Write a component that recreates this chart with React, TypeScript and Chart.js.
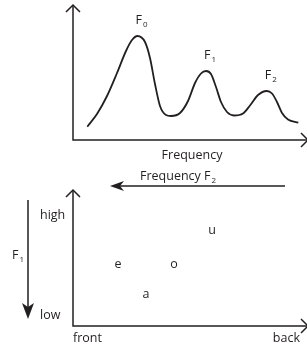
import React, { useEffect, useRef } from 'react';
import { Chart, registerables } from 'chart.js';

Chart.register(...registerables);

// ---- data ----
const spectrumFreq = [6.16, 10.34, 14.66, 18.97, 22.84, 25.43, 27.8, 31.03, 33.19, 35.34, 37.5, 40.09, 42.24, 46.12, 49.57, 52.59, 55.17, 57.33, 59.48, 61.64, 63.79, 66.38, 69.4, 73.28, 76.29, 79.74, 83.49, 85.78, 87.93, 90.09, 92.67, 97.11];
const spectrumAmp = [9.85, 19.26, 32.59, 49.63, 65.93, 74.07, 77.04, 72.59, 60.74, 41.48, 25.19, 18.52, 17.78, 20.0, 28.89, 42.22, 49.26, 51.11, 48.89, 39.26, 28.15, 20.74, 18.15, 19.63, 25.56, 33.33, 36.3, 34.44, 28.15, 20.0, 15.19, 12.81];
const formantSubs = ['0', '1', '2'];
const spectrumXTitle = 'Frequency';

const vowels = ['u', 'e', 'o', 'a'];
const vowelBackness = [59.9, 19.4, 43.5, 31.5];
const vowelHeight = [70.6, 44.9, 44.9, 23.5];
const heightLabels = ['high', 'low'];
const backnessLabels = ['front', 'back'];

const INK = '#231f20';
const FONT = '"Open Sans", sans-serif';
const FS = 12.5;

function chevron(ctx: CanvasRenderingContext2D, tx: number, ty: number, dir: 'up' | 'right', s = 7) {
  ctx.beginPath();
  if (dir === 'up') {
    ctx.moveTo(tx - s, ty + s);
    ctx.lineTo(tx, ty);
    ctx.lineTo(tx + s, ty + s);
  } else {
    ctx.moveTo(tx - s, ty - s);
    ctx.lineTo(tx, ty);
    ctx.lineTo(tx - s, ty + s);
  }
  ctx.stroke();
}

function subText(ctx: CanvasRenderingContext2D, base: string, sub: string, x: number, y: number, size: number) {
  ctx.font = `${size}px ${FONT}`;
  ctx.textAlign = 'left';
  ctx.textBaseline = 'middle';
  ctx.fillText(base, x, y);
  const w = ctx.measureText(base).width;
  ctx.font = `${Math.round(size * 0.6)}px ${FONT}`;
  ctx.fillText(sub, x + w + 1, y + size * 0.4);
}

const topPlugin = {
  id: 'topDeco',
  afterDraw(chart: any) {
    const ctx = chart.ctx as CanvasRenderingContext2D;
    const { left, top, bottom } = chart.chartArea;
    const W = chart.width;
    ctx.save();
    ctx.strokeStyle = INK;
    ctx.fillStyle = INK;
    ctx.lineWidth = 1.5;
    ctx.beginPath();
    ctx.moveTo(left, top);
    ctx.lineTo(left, bottom);
    ctx.lineTo(W + 1, bottom);
    ctx.stroke();
    chevron(ctx, left, top, 'up');
    chevron(ctx, W + 1, bottom, 'right');
    // peak labels above each local maximum
    const pts = chart.getDatasetMeta(0).data;
    const peaks: number[] = [];
    for (let i = 1; i < spectrumAmp.length - 1; i++) {
      if (spectrumAmp[i] > spectrumAmp[i - 1] && spectrumAmp[i] >= spectrumAmp[i + 1]) peaks.push(i);
    }
    peaks.forEach((idx, k) => {
      const p = pts[idx];
      subText(ctx, 'F', formantSubs[k] ?? '', p.x - 2, p.y - 16, FS);
    });
    ctx.font = `${FS}px ${FONT}`;
    ctx.textAlign = 'center';
    ctx.textBaseline = 'middle';
    ctx.fillText(spectrumXTitle, 192, bottom + 15);
    ctx.restore();
  },
};

const bottomPlugin = {
  id: 'bottomDeco',
  afterDraw(chart: any) {
    const ctx = chart.ctx as CanvasRenderingContext2D;
    const { left, top, bottom } = chart.chartArea;
    const W = chart.width;
    ctx.save();
    ctx.strokeStyle = INK;
    ctx.fillStyle = INK;
    ctx.lineWidth = 1.5;
    ctx.beginPath();
    ctx.moveTo(left, top);
    ctx.lineTo(left, bottom);
    ctx.lineTo(W + 1, bottom);
    ctx.stroke();
    chevron(ctx, left, top, 'up');
    chevron(ctx, W + 1, bottom, 'right');

    // Frequency F2 arrow (pointing left)
    subText(ctx, 'Frequency F', '2', 140, 11, FS);
    const ay = 21;
    ctx.beginPath();
    ctx.moveTo(285, ay);
    ctx.lineTo(118, ay);
    ctx.stroke();
    ctx.beginPath();
    ctx.moveTo(110, ay);
    ctx.lineTo(124, ay - 5);
    ctx.lineTo(120, ay);
    ctx.lineTo(124, ay + 5);
    ctx.closePath();
    ctx.fill();

    // F1 arrow (pointing down)
    const ax = 28;
    ctx.beginPath();
    ctx.moveTo(ax, 35);
    ctx.lineTo(ax, 145);
    ctx.stroke();
    ctx.beginPath();
    ctx.moveTo(ax, 154);
    ctx.lineTo(ax - 6, 138);
    ctx.lineTo(ax, 142);
    ctx.lineTo(ax + 6, 138);
    ctx.closePath();
    ctx.fill();
    subText(ctx, 'F', '1', 12, 90, FS);

    ctx.font = `${FS}px ${FONT}`;
    ctx.textBaseline = 'middle';
    ctx.textAlign = 'left';
    ctx.fillText(heightLabels[0], 40, 50);
    ctx.fillText(heightLabels[1], 40, 150);
    ctx.fillText(backnessLabels[0], left, bottom + 12);
    ctx.textAlign = 'right';
    ctx.fillText(backnessLabels[1], 300, bottom + 12);

    const meta = chart.getDatasetMeta(0);
    ctx.textAlign = 'center';
    meta.data.forEach((p: any, i: number) => {
      ctx.fillText(vowels[i], p.x, p.y);
    });
    ctx.restore();
  },
};

export default function App() {
  const topRef = useRef<HTMLCanvasElement>(null);
  const botRef = useRef<HTMLCanvasElement>(null);

  useEffect(() => {
    document.body.style.margin = '0';
    const top = new Chart(topRef.current!, {
      type: 'line',
      data: {
        datasets: [
          {
            data: spectrumFreq.map((x, i) => ({ x, y: spectrumAmp[i] })),
            borderColor: INK,
            borderWidth: 1.8,
            pointRadius: 0,
            cubicInterpolationMode: 'monotone',
            fill: false,
          },
        ],
      },
      options: {
        responsive: false,
        animation: false,
        layout: { padding: { left: 73, top: 5, right: 2, bottom: 25 } },
        plugins: { legend: { display: false }, tooltip: { enabled: false } },
        scales: {
          x: { type: 'linear', display: false, min: 0, max: 100 },
          y: { type: 'linear', display: false, min: 0, max: 100 },
        },
      },
      plugins: [topPlugin],
    } as any);

    const bot = new Chart(botRef.current!, {
      type: 'scatter',
      data: {
        datasets: [
          {
            data: vowelBackness.map((x, i) => ({ x, y: vowelHeight[i] })),
            pointRadius: 0,
          },
        ],
      },
      options: {
        responsive: false,
        animation: false,
        layout: { padding: { left: 73, top: 25, right: 2, bottom: 23 } },
        plugins: { legend: { display: false }, tooltip: { enabled: false } },
        scales: {
          x: { type: 'linear', display: false, min: 0, max: 100 },
          y: { type: 'linear', display: false, min: 0, max: 100 },
        },
      },
      plugins: [bottomPlugin],
    } as any);

    return () => {
      top.destroy();
      bot.destroy();
    };
  }, []);

  return (
    <div style={{ position: 'relative', width: 307, height: 349, background: '#fff' }}>
      <canvas ref={topRef} width={307} height={165} style={{ position: 'absolute', left: 0, top: 0 }} />
      <canvas ref={botRef} width={307} height={184} style={{ position: 'absolute', left: 0, top: 165 }} />
    </div>
  );
}
